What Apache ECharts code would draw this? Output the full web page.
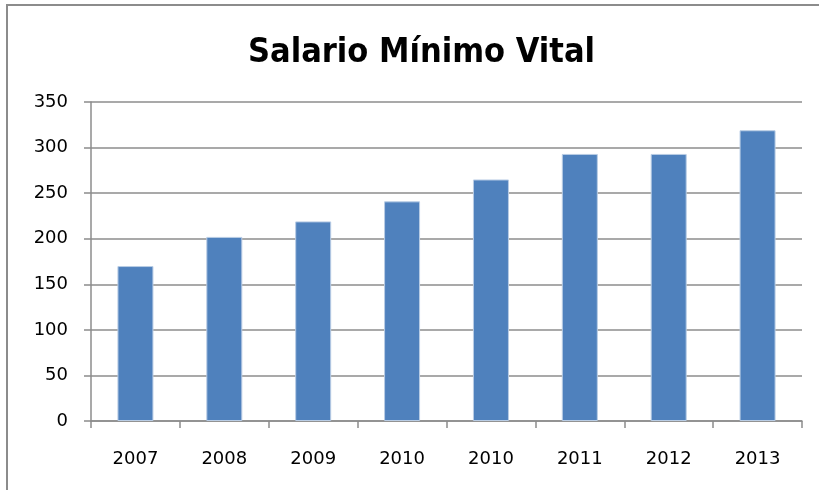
<!DOCTYPE html>
<html>
<head>
<meta charset="utf-8">
<script src="https://cdn.jsdelivr.net/npm/echarts@6/dist/echarts.min.js"></script>
<style>
  html, body { margin: 0; padding: 0; background: #fff; }
  #frame {
    position: absolute; left: 6px; top: 4px; width: 830px; height: 500px;
    border: 2px solid #8c8c8c; box-sizing: border-box;
  }
  #main { position: absolute; left: 0; top: 0; width: 819px; height: 490px; }
</style>
</head>
<body>
<div id="frame"></div>
<div id="main"></div>
<script>
// data
const years = ['2007', '2008', '2009', '2010', '2010', '2011', '2012', '2013']
const salario = [170, 202, 219, 241, 265, 293, 293, 319]
const yTicks = { min: 0, max: 350, interval: 50 }

const chart = echarts.init(document.getElementById('main'), null, { renderer: 'canvas' })

const option = {
  animation: false,
  title: {
    text: 'Salario Mínimo Vital',
    left: 243,
    top: 31,
    textStyle: {
      fontFamily: '"DejaVu Sans Condensed", "Roboto Condensed", Roboto, sans-serif',
      fontWeight: 'bold',
      fontSize: 34,
      color: '#000'
    }
  },
  grid: {
    left: 91,
    right: 17,
    top: 102,
    bottom: 69,
    containLabel: false
  },
  xAxis: {
    type: 'category',
    data: years,
    axisLine: { lineStyle: { color: '#8c8c8c', width: 1.5 } },
    axisTick: { show: true, length: 7, lineStyle: { color: '#8c8c8c', width: 1.5 } },
    axisLabel: {
      margin: 29,
      fontFamily: '"DejaVu Sans", sans-serif',
      fontSize: 18,
      color: '#000'
    }
  },
  yAxis: {
    type: 'value',
    min: yTicks.min,
    max: yTicks.max,
    interval: yTicks.interval,
    axisLine: { show: true, lineStyle: { color: '#8c8c8c', width: 1.5 } },
    axisTick: { show: true, length: 7, lineStyle: { color: '#8c8c8c', width: 1.5 } },
    axisLabel: {
      margin: 23,
      fontFamily: '"DejaVu Sans", sans-serif',
      fontSize: 18,
      color: '#000'
    },
    splitLine: { show: true, lineStyle: { color: '#8c8c8c', width: 1.5 } }
  },
  series: [
    {
      name: 'Salario',
      type: 'bar',
      data: salario,
      barWidth: 36,
      itemStyle: {
        color: '#4F81BD',
        borderColor: '#b9cde5',
        borderWidth: 1
      }
    }
  ]
}

chart.setOption(option)
</script>
</body>
</html>
